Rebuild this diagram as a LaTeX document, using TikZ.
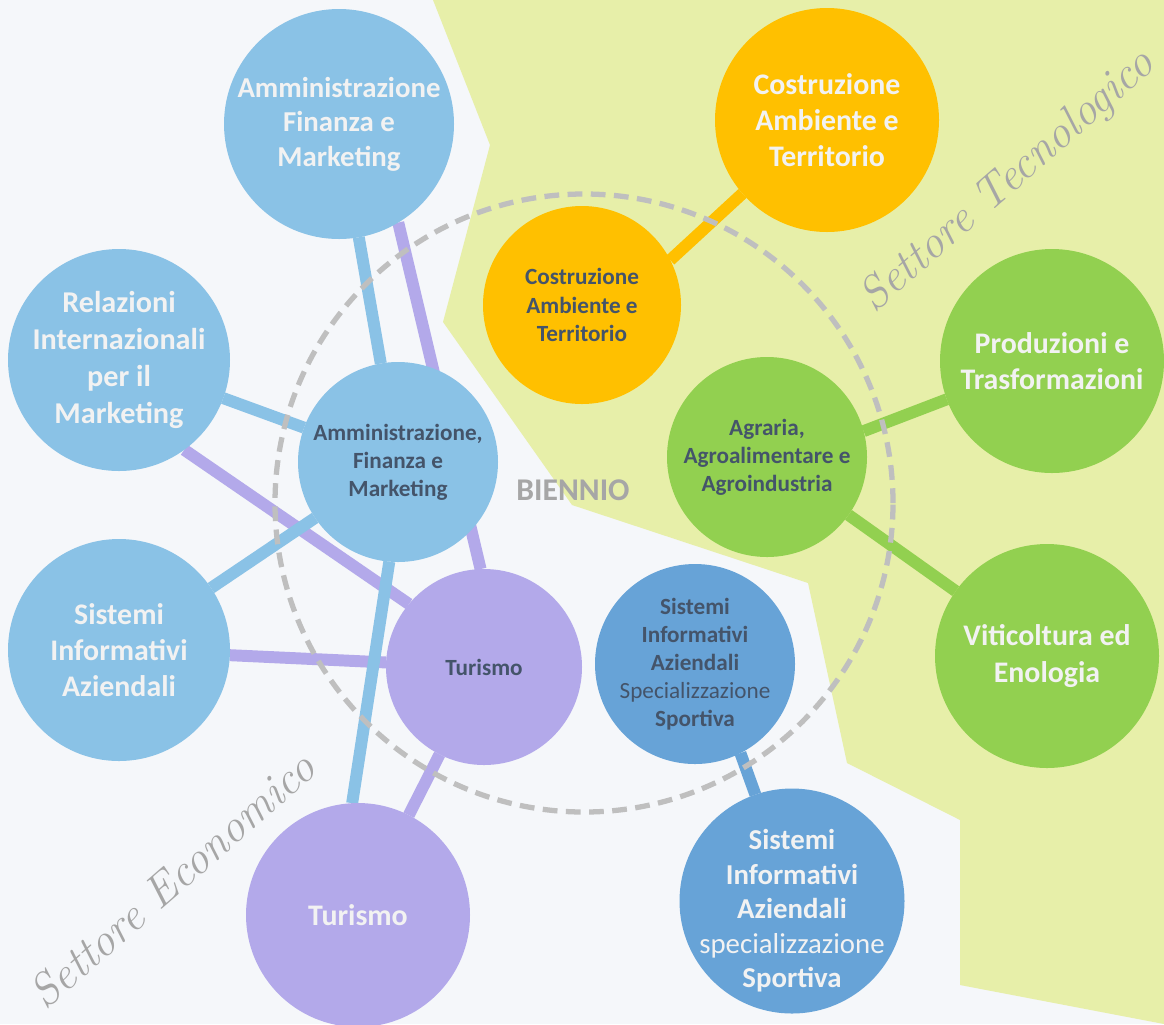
\documentclass[tikz,border=0pt]{standalone}
\usepackage{fontspec}
\newfontfamily\carlito{Carlito}

\definecolor{paper}{HTML}{F5F7FA}
\definecolor{tecno}{HTML}{E7EFA9}
\definecolor{azzurro}{HTML}{8AC2E6}
\definecolor{lilla}{HTML}{B3A9EA}
\definecolor{arancio}{HTML}{FFC000}
\definecolor{verde}{HTML}{92D050}
\definecolor{blusport}{HTML}{67A3D7}
\definecolor{testo}{HTML}{44546A}
\definecolor{bianco}{HTML}{F2F2F2}
\definecolor{grigio}{HTML}{BFBFBF}
\definecolor{scritta}{HTML}{A6A6A6}

\pgfdeclarelayer{back}
\pgfdeclarelayer{links}
\pgfsetlayers{back,links,main}

\tikzset{
  corso/.style={circle, inner sep=0pt, outer sep=0pt, align=center},
  triennio/.style={corso, minimum size=2.24cm, text=bianco, font=\carlito\bfseries\fontsize{8.5}{10.3}\selectfont},
  primobiennio/.style={corso, minimum size=2cm, text=testo, font=\carlito\bfseries\fontsize{6.6}{8}\selectfont},
  collegamento/.style={line width=3.4pt},
  settore/.style={text=scritta, font=\itshape\fontsize{13}{15}\selectfont},
}

\begin{document}
\begin{tikzpicture}
  \useasboundingbox (0,0) rectangle (11.64,-10.24);
  \begin{pgfonlayer}{back}
    \fill[paper] (0,0) rectangle (11.64,-10.24);
    \fill[tecno] (4.33,0) -- (4.90,-1.45) -- (4.43,-3.22) -- (5.72,-5.05) -- (8.08,-5.83)
      -- (8.47,-7.63) -- (9.60,-8.20) -- (9.60,-9.85) -- (11.64,-10.24) -- (11.64,0) -- cycle;
  \end{pgfonlayer}

  % primo biennio
  \node[primobiennio, fill=azzurro] (afmB) at (3.98,-4.62) {Amministrazione,\\Finanza e\\Marketing};
  \node[primobiennio, fill=lilla, minimum size=1.96cm] (turB) at (4.84,-6.67) {Turismo};
  \node[primobiennio, fill=blusport] (siaB) at (6.95,-6.64) {Sistemi\\Informativi\\Aziendali\\{\mdseries Specializzazione}\\Sportiva};
  \node[primobiennio, fill=arancio, minimum size=1.98cm] (catB) at (5.82,-3.05) {Costruzione\\Ambiente e\\Territorio};
  \node[primobiennio, fill=verde] (agrB) at (7.67,-4.57) {Agraria,\\Agroalimentare e\\Agroindustria};

  % triennio
  \node[triennio, fill=azzurro, minimum size=2.30cm, font=\carlito\bfseries\fontsize{8.2}{9.8}\selectfont] (afmT) at (3.39,-1.24) {Amministrazione\\Finanza e\\Marketing};
  \node[triennio, fill=azzurro, minimum size=2.22cm, font=\carlito\bfseries\fontsize{8.6}{10.6}\selectfont] (rimT) at (1.19,-3.60) {Relazioni\\Internazionali\\per il\\Marketing};
  \node[triennio, fill=azzurro, minimum size=2.22cm] (siaT) at (1.19,-6.50) {Sistemi\\Informativi\\Aziendali};
  \node[triennio, fill=lilla] (turT) at (3.58,-9.15) {Turismo};
  \node[triennio, fill=blusport, minimum size=2.25cm] (spoT) at (7.92,-9.01) {};
  \node[text=bianco, align=center, font=\carlito\bfseries\fontsize{8.2}{9.8}\selectfont] (spoTesto) at ([yshift=-0.1cm]spoT.center) {Sistemi\\Informativi\\Aziendali\\{\mdseries specializzazione}\\Sportiva};
  \node[triennio, fill=arancio] (catT) at (8.27,-1.20) {Costruzione\\Ambiente e\\Territorio};
  \node[triennio, fill=verde] (proT) at (10.52,-3.61) {Produzioni e\\Trasformazioni};
  \node[triennio, fill=verde] (vitT) at (10.47,-6.56) {Viticoltura ed\\Enologia};

  \begin{pgfonlayer}{links}
    \draw[collegamento, lilla] (afmT.-59) -- (turB.92);
    \draw[collegamento, lilla] (rimT.-54) -- (turB.140);
    \draw[collegamento, lilla] (siaT) -- (turB);
    \draw[collegamento, lilla] (turB) -- (turT);
    \draw[collegamento, azzurro] (afmT) -- (afmB);
    \draw[collegamento, azzurro] (rimT) -- (afmB);
    \draw[collegamento, azzurro] (siaT) -- (afmB);
    \draw[collegamento, azzurro] (afmB.265) -- (turT.93);
    \draw[collegamento, blusport] (siaB.-63) -- (spoT.109);
    \draw[collegamento, arancio] (catB.27) -- (catT.221);
    \draw[collegamento, verde] (agrB.15) -- (proT.200);
    \draw[collegamento, verde] (agrB) -- (vitT);
  \end{pgfonlayer}

  \draw[grigio, line width=1.5pt, dash pattern=on 4.2pt off 2.4pt] (5.84,-5.03) circle (3.09);
  \node[text=scritta, font=\carlito\bfseries\fontsize{9}{11}\selectfont] (biennio) at (5.73,-4.90) {BIENNIO};

  \node[settore, rotate=41] (tecnologico) at (10.08,-1.82) {Settore Tecnologico};
  \node[settore, rotate=41] (economico) at (1.72,-8.80) {Settore Economico};
\end{tikzpicture}
\end{document}
